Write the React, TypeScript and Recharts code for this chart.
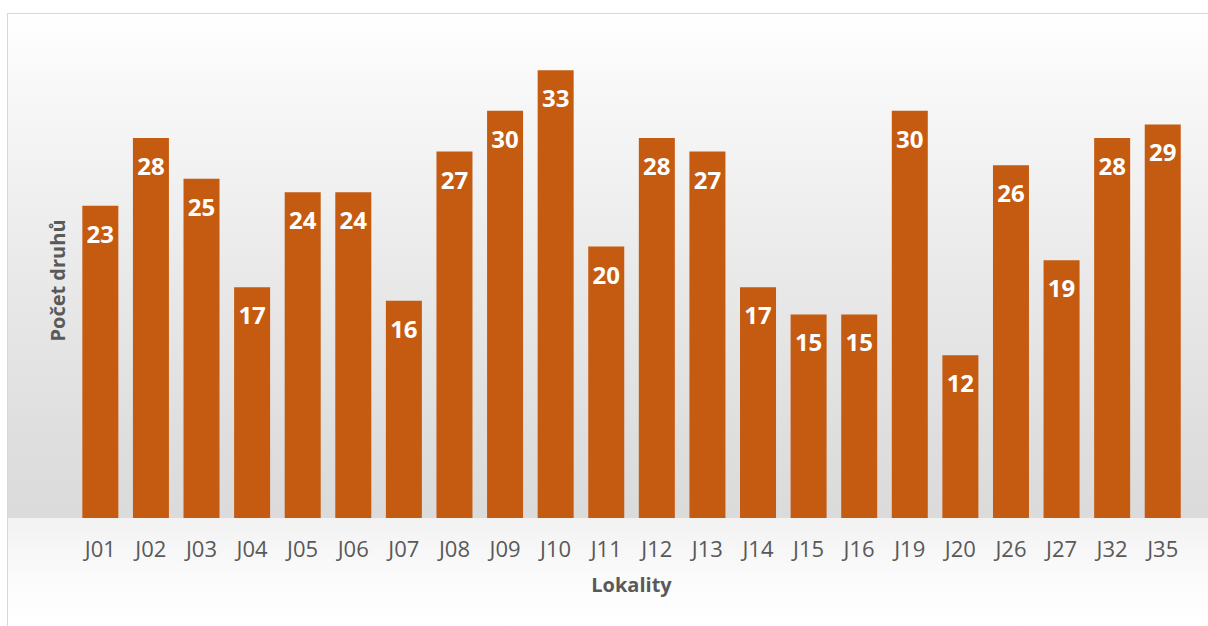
import { BarChart, Bar, XAxis, YAxis, LabelList, Label } from 'recharts';

const lokality = ['J01', 'J02', 'J03', 'J04', 'J05', 'J06', 'J07', 'J08', 'J09', 'J10', 'J11', 'J12', 'J13', 'J14', 'J15', 'J16', 'J19', 'J20', 'J26', 'J27', 'J32', 'J35'];
const pocetDruhu = [23, 28, 25, 17, 24, 24, 16, 27, 30, 33, 20, 28, 27, 17, 15, 15, 30, 12, 26, 19, 28, 29];

const data = lokality.map((name, i) => ({ name, value: pocetDruhu[i] }));

const FONT = '"Open Sans", sans-serif';
const GREY = '#595959';

export default function App() {
  return (
    <div
      style={{
        position: 'absolute',
        left: 7,
        top: 13,
        width: 1201,
        height: 613,
        boxSizing: 'border-box',
        borderTop: '1px solid #d9d9d9',
        borderLeft: '1px solid #d9d9d9',
        background:
          'linear-gradient(to bottom, #ffffff 0%, #f8f8f8 12%, #e8e8e8 45%, #dedede 70%, #dbdbdb 82.3%, #f2f2f2 82.4%, #fbfbfb 92%, #ffffff 100%)',
        fontFamily: FONT,
      }}
    >
      <BarChart
        width={1200}
        height={612}
        data={data}
        margin={{ top: 29, right: 20, bottom: 28, left: 0 }}
        barCategoryGap="14.5%"
      >
        <XAxis
          dataKey="name"
          axisLine={false}
          tickLine={false}
          tickMargin={17}
          height={80}
          interval={0}
          tick={{ fill: GREY, fontSize: 22, fontFamily: FONT }}
        >
          <Label
            value="Lokality"
            position="insideBottom"
            offset={6}
            style={{ fill: GREY, fontSize: 20, fontWeight: 700, fontFamily: FONT }}
          />
        </XAxis>
        <YAxis
          width={67}
          domain={[0, 35]}
          tick={false}
          axisLine={false}
          tickLine={false}
        >
          <Label
            content={(props: any) => {
              const vb = props.viewBox || {};
              const cx = 49;
              const cy = (vb.y || 0) + (vb.height || 0) / 2;
              return (
                <text
                  x={cx}
                  y={cy}
                  transform={`rotate(-90 ${cx} ${cy})`}
                  textAnchor="middle"
                  dominantBaseline="central"
                  fill={GREY}
                  fontSize={20}
                  fontWeight={700}
                  fontFamily={FONT}
                >
                  Počet druhů
                </text>
              );
            }}
          />
        </YAxis>
        <Bar dataKey="value" fill="#C55A11" isAnimationActive={false}>
          <LabelList
            dataKey="value"
            position="insideTop"
            offset={20}
            fill="#ffffff"
            fontSize={24}
            fontWeight={700}
            fontFamily={FONT}
          />
        </Bar>
      </BarChart>
    </div>
  );
}
